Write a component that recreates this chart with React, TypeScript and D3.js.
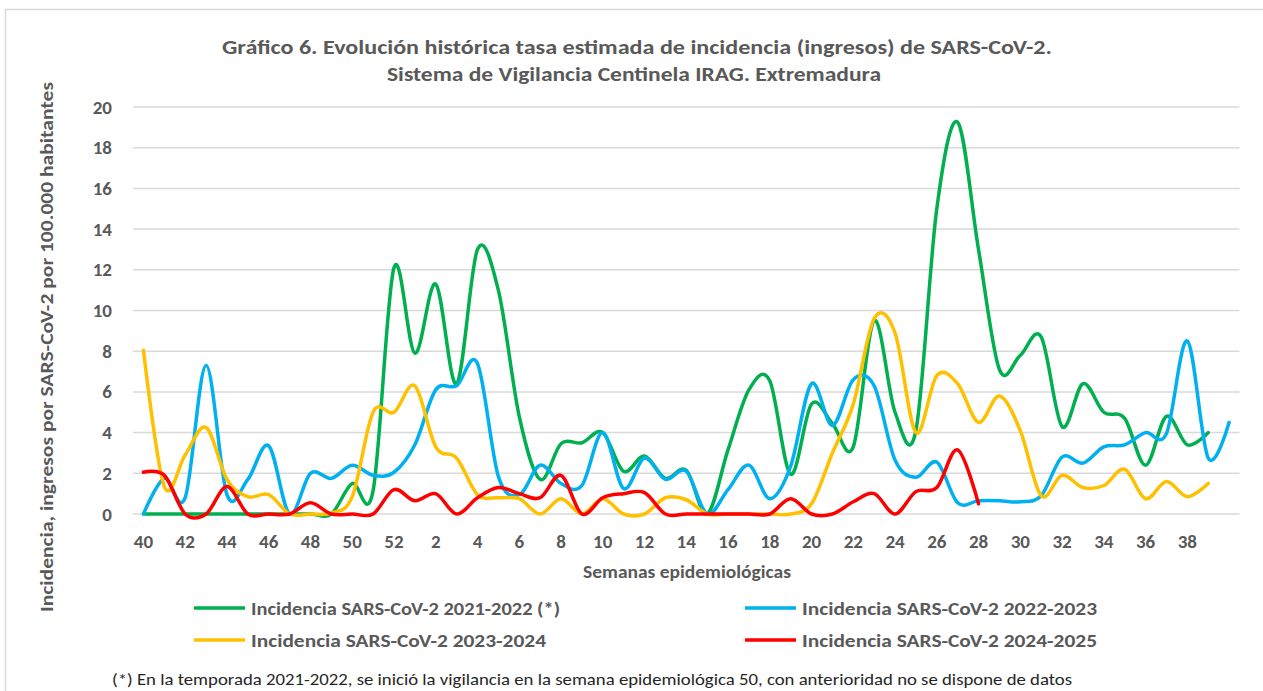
import React from 'react';
import * as d3 from 'd3';

// epidemiological weeks on the category axis (season runs from week 40)
const weeks = [
  40, 41, 42, 43, 44, 45, 46, 47, 48, 49, 50, 51, 52,
  1, 2, 3, 4, 5, 6, 7, 8, 9, 10, 11, 12, 13, 14, 15, 16, 17, 18, 19, 20,
  21, 22, 23, 24, 25, 26, 27, 28, 29, 30, 31, 32, 33, 34, 35, 36, 37, 38, 39, 40,
];
const tickWeeks = weeks.map((w, i) => i).filter(i => i % 2 === 0 && i < 52);
const yTicks = [0, 2, 4, 6, 8, 10, 12, 14, 16, 18, 20];

const s2122 = [
  0, 0, 0, 0, 0, 0, 0, 0, 0, 0, 1.5, 1.15, 12.1,
  7.9, 11.3, 6.4, 13.0, 11.0, 4.8, 1.7, 3.45, 3.5, 4.0, 2.1, 2.85, 1.75, 2.15, 0, 3.15, 6.1, 6.55, 1.95, 5.4,
  4.45, 3.3, 9.5, 5.0, 4.1, 15.0, 19.25, 13.0, 7.1, 7.8, 8.7, 4.3, 6.4, 5.0, 4.7, 2.4, 4.8, 3.4, 4.0, null,
];
const s2223 = [
  0, 1.75, 0.8, 7.3, 0.95, 1.7, 3.35, 0, 2.0, 1.75, 2.4, 1.9, 2.05,
  3.4, 6.1, 6.3, 7.4, 1.85, 0.95, 2.4, 1.5, 1.4, 4.0, 1.25, 2.75, 1.7, 2.1, 0, 1.2, 2.4, 0.75, 2.35, 6.4,
  4.35, 6.6, 6.3, 2.65, 1.8, 2.55, 0.55, 0.65, 0.65, 0.6, 0.9, 2.8, 2.5, 3.3, 3.4, 4.0, 3.95, 8.5, 2.75, 4.5,
];
const s2324 = [
  8.05, 1.35, 2.9, 4.25, 1.7, 0.85, 0.95, 0, 0, 0.05, 0.85, 5.0, 5.0,
  6.3, 3.3, 2.75, 0.95, 0.8, 0.75, 0, 0.75, 0, 0.75, 0, 0, 0.8, 0.7, 0, 0, 0, 0, 0, 0.5,
  3.0, 5.4, 9.6, 8.9, 4.0, 6.8, 6.4, 4.5, 5.8, 4.1, 0.9, 1.9, 1.3, 1.4, 2.2, 0.75, 1.6, 0.85, 1.5, null,
];
const s2425 = [
  2.05, 1.9, 0, 0, 1.35, 0, 0, 0, 0.55, 0, 0, 0, 1.2,
  0.65, 1.0, 0, 0.8, 1.3, 1.0, 0.8, 1.9, 0, 0.8, 1.0, 1.05, 0, 0, 0, 0, 0, 0, 0.75, 0,
  0, 0.6, 1.0, 0, 1.1, 1.3, 3.15, 0.5,
];

const seriesNames = [
  'Incidencia SARS-CoV-2 2021-2022 (*)',
  'Incidencia SARS-CoV-2 2022-2023',
  'Incidencia SARS-CoV-2 2023-2024',
  'Incidencia SARS-CoV-2 2024-2025',
];
const seriesColors = ['#00B050', '#00B0F0', '#FFC000', '#FF0000'];
const seriesData = [s2122, s2223, s2324, s2425];

const W = 1263;
const H = 691;
const font = "Carlito, Calibri, 'Open Sans', sans-serif";
const grey = '#595959';

export default function App() {
  const x = d3.scaleBand<number>().domain(weeks.map((w, i) => i)).range([133, 1239.5]);
  const y = d3.scaleLinear().domain([0, 20]).range([514, 107]);
  const cx = (i: number) => (x(i) as number) + x.bandwidth() / 2;

  const line = d3.line<number | null>()
    .defined(d => d !== null)
    .x((d, i) => cx(i))
    .y(d => y(d as number))
    .curve(d3.curveCatmullRom.alpha(0));

  // legend: two columns, two rows
  const legendPos = [
    { x: 194, y: 608 },
    { x: 745, y: 608 },
    { x: 194, y: 640 },
    { x: 745, y: 640 },
  ];

  return (
    <svg width={W} height={H} style={{ position: 'absolute', left: 0, top: 0, background: '#fff' }}
      fontFamily={font}>
      <rect x={5.5} y={9.5} width={W} height={H} fill="#fff" stroke="#d9d9d9" strokeWidth={1.5} />

      <text x={637} y={54} textAnchor="middle" fontSize={20} fontWeight="bold" fill={grey}
        textLength={830} lengthAdjust="spacingAndGlyphs">
        Gráfico 6. Evolución histórica tasa estimada de incidencia (ingresos) de SARS-CoV-2.
      </text>
      <text x={634} y={81} textAnchor="middle" fontSize={20} fontWeight="bold" fill={grey}
        textLength={494} lengthAdjust="spacingAndGlyphs">
        Sistema de Vigilancia Centinela IRAG. Extremadura
      </text>

      {yTicks.map(t => (
        <g key={t}>
          <line x1={133} x2={1239.5} y1={y(t)} y2={y(t)} stroke="#d9d9d9" strokeWidth={1.5} />
          <text x={112} y={y(t) + 6.5} textAnchor="end" fontSize={19} fontWeight="bold" fill={grey}>{t}</text>
        </g>
      ))}

      {tickWeeks.map(i => (
        <text key={i} x={cx(i)} y={548} textAnchor="middle" fontSize={19} fontWeight="bold" fill={grey}>
          {weeks[i]}
        </text>
      ))}

      <text x={687} y={578} textAnchor="middle" fontSize={18} fontWeight="bold" fill={grey}
        textLength={208} lengthAdjust="spacingAndGlyphs">Semanas epidemiológicas</text>
      <text transform="translate(53,347) rotate(-90)" textAnchor="middle" fontSize={18} fontWeight="bold"
        fill={grey} textLength={530} lengthAdjust="spacingAndGlyphs">
        Incidencia, ingresos por SARS-CoV-2 por 100.000 habitantes
      </text>

      {seriesData.map((s, k) => (
        <path key={k} d={line(s) || ''} fill="none" stroke={seriesColors[k]} strokeWidth={3.5}
          strokeLinejoin="round" strokeLinecap="round" />
      ))}

      {seriesNames.map((name, k) => {
        const p = legendPos[k];
        return (
          <g key={k}>
            <line x1={p.x} x2={p.x + 51} y1={p.y} y2={p.y} stroke={seriesColors[k]} strokeWidth={3.5} />
            <text x={p.x + 57} y={p.y + 6.5} fontSize={18} fontWeight="bold" fill={grey}
              textLength={k === 0 ? 309 : 295} lengthAdjust="spacingAndGlyphs">{name}</text>
          </g>
        );
      })}

      <text x={112} y={685} fontSize={15.5} fill="#262626" textLength={960} lengthAdjust="spacingAndGlyphs">
        (*) En la temporada 2021-2022, se inició la vigilancia en la semana epidemiológica 50, con anterioridad no se dispone de datos
      </text>
    </svg>
  );
}
